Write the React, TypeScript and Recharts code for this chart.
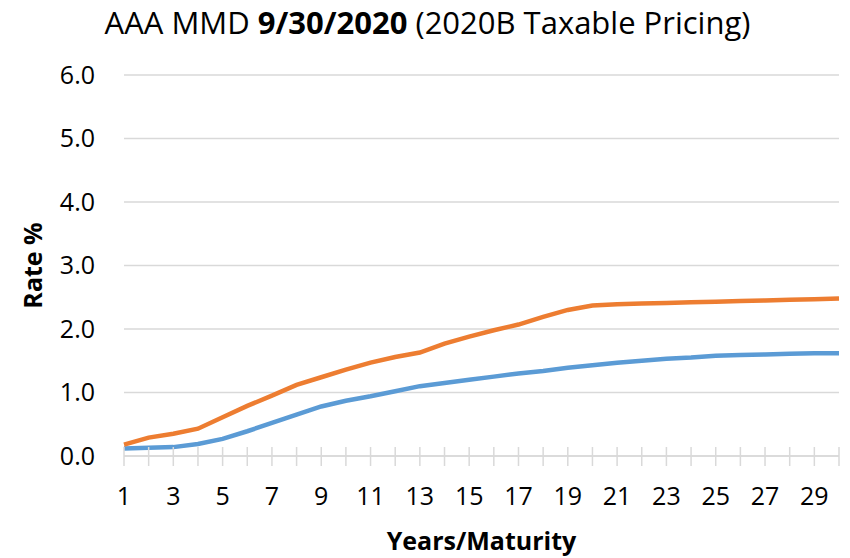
import { CartesianGrid, Label, Line, LineChart, XAxis, YAxis } from "recharts";

// maturity years along the category axis
const years = [1, 2, 3, 4, 5, 6, 7, 8, 9, 10, 11, 12, 13, 14, 15, 16, 17, 18, 19, 20, 21, 22, 23, 24, 25, 26, 27, 28, 29, 30];

// AAA MMD curve (blue)
const mmdRates = [
  0.12, 0.13, 0.14, 0.19, 0.27, 0.39, 0.52, 0.65, 0.78, 0.87, 0.94, 1.02, 1.1, 1.15, 1.2,
  1.25, 1.3, 1.34, 1.39, 1.43, 1.47, 1.5, 1.53, 1.55, 1.58, 1.59, 1.6, 1.61, 1.62, 1.62,
];

// 2020B taxable pricing (orange)
const taxableRates = [
  0.18, 0.29, 0.35, 0.43, 0.61, 0.79, 0.95, 1.12, 1.24, 1.36, 1.47, 1.56, 1.63, 1.77, 1.88,
  1.98, 2.07, 2.19, 2.3, 2.37, 2.39, 2.4, 2.41, 2.42, 2.43, 2.44, 2.45, 2.46, 2.47, 2.48,
];

const rateTicks = [0, 1, 2, 3, 4, 5, 6];

const data = years.map((year, i) => ({ year, mmd: mmdRates[i], taxable: taxableRates[i] }));

const FONT = "'Open Sans', sans-serif";
const GRID = "#d9d9d9";

/** Tick marks cross the axis line for every year; only odd years get a label. */
function YearTick({ x, y, payload }: any) {
  const v = Number(payload.value);
  return (
    <g>
      <line x1={x} x2={x} y1={y - 9} y2={y + 10} stroke={GRID} strokeWidth={1.5} />
      {v % 2 === 1 && (
        <text x={x} y={y + 49} textAnchor="middle" fontSize={25} fontFamily={FONT} fill="#000">
          {v}
        </text>
      )}
    </g>
  );
}

export default function App() {
  return (
    <div style={{ position: "absolute", left: 0, top: 0, width: 850, height: 558, background: "#fff" }}>
      <div
        style={{
          position: "absolute",
          left: 0,
          top: 0,
          width: 855,
          textAlign: "center",
          fontFamily: FONT,
          fontSize: 31,
          lineHeight: "44px",
          color: "#000",
        }}
      >
        AAA MMD <b>9/30/2020</b> (2020B Taxable Pricing)
      </div>
      <LineChart width={850} height={558} data={data} margin={{ top: 75, right: 11, left: 0, bottom: 0 }}>
        <CartesianGrid vertical={false} stroke={GRID} strokeWidth={1.5} />
        <XAxis
          dataKey="year"
          interval={0}
          height={102}
          tickLine={false}
          tickSize={0}
          tickMargin={0}
          axisLine={{ stroke: GRID, strokeWidth: 1.5 }}
          tick={<YearTick />}
        >
          <Label
            value="Years/Maturity"
            position="insideBottom"
            offset={8}
            style={{ fontFamily: FONT, fontSize: 25, fontWeight: 700, fill: "#000" }}
          />
        </XAxis>
        <YAxis
          width={124}
          domain={[0, 6]}
          ticks={rateTicks}
          axisLine={false}
          tickLine={false}
          tickSize={0}
          tickMargin={29}
          tickFormatter={(v: number) => v.toFixed(1)}
          tick={{ fontFamily: FONT, fontSize: 25, fill: "#000" }}
        >
          <Label
            value="Rate %"
            angle={-90}
            position="insideLeft"
            offset={33}
            style={{ textAnchor: "middle", fontFamily: FONT, fontSize: 25, fontWeight: 700, fill: "#000" }}
          />
        </YAxis>
        <Line type="linear" dataKey="mmd" stroke="#5b9bd5" strokeWidth={4.5} dot={false} isAnimationActive={false} />
        <Line type="linear" dataKey="taxable" stroke="#ed7d31" strokeWidth={4.5} dot={false} isAnimationActive={false} />
      </LineChart>
    </div>
  );
}
